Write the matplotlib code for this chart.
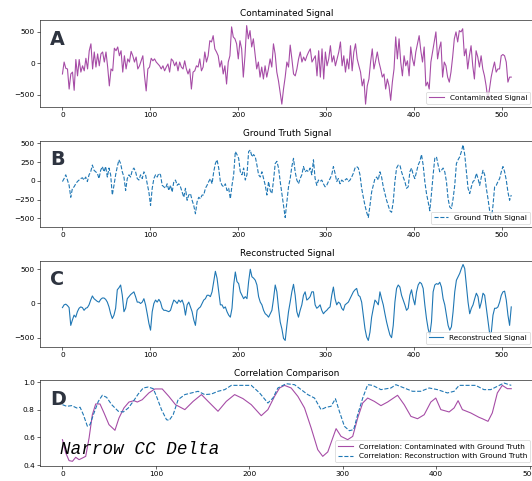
import numpy as np
import matplotlib
matplotlib.use('Agg')
import matplotlib.pyplot as plt

contaminated = [-170, 20, -80, -90, -410, -170, -140, -430, 60, -200, 60, -140, -40, -120, 80, -90, 200, 310, -90, 180,
                -60, 150, -40, 150, 180, 20, 180, -60, -360, -90, -120, 240, 200, 260, 120, 200, -140, 120, -90, 70,
                20, 190, 120, 20, 100, -90, -40, 40, 120, -200, -440, -90, -60, 80, 40, 70, 20, -10, -40, -90,
                -40, -120, -60, -10, -140, 70, 40, -40, 20, -120, 20, -60, -90, 40, -90, -170, -90, -410, -140, -120,
                -40, -60, 70, -120, -60, 180, 20, 120, 360, 340, 440, 230, 180, 120, -60, 40, -170, -40, -330, 20,
                120, 580, 420, 390, 310, 70, 360, 230, -220, 120, 600, 390, 520, 260, 390, 150, -90, 20, -220, -60,
                -250, -40, -220, -90, 70, -60, 310, 150, -140, -280, -470, -650, -410, -220, 20, -60, 290, 70, -170, -200,
                -90, 70, 180, 20, 100, 40, 120, 180, 230, 20, 70, 120, -200, 200, -220, 230, -250, 180, -40, 70,
                280, 20, 120, -40, 70, 180, 340, -40, 120, -140, 70, -90, 280, -120, 180, 310, 70, -40, -140, -360,
                -250, -650, -360, -250, 20, 230, -90, 40, 180, 20, -90, -220, -170, -410, -250, -360, -590, -300, -90, 420,
                70, 390, 20, -200, 120, -40, 40, -200, 260, 70, -40, 180, 310, 440, 200, 20, 260, -360, -300, -410,
                20, 180, 340, 500, 70, 230, 340, -220, 20, -40, -220, -300, -140, 100, 390, 500, 340, 520, 500, 550,
                120, 230, -90, 120, 280, -40, -250, 200, 100, -60, 120, -90, -200, -360, -570, -410, -220, -90, 20, -140,
                -90, -90, 120, 140, 120, 20, -300, -220, -220]

ground_truth = [-10, 30, 80, 10, -60, -220, -100, -80, -40, -10, 10, 30, 40, 10, 50, -10, 80, 120, 210, 140,
                120, 100, 30, 140, 190, 120, 190, 50, 170, 80, -190, -60, 80, 190, 280, 230, 120, 50, -130, 30,
                80, 50, 140, 170, 120, 30, 10, 80, 30, 120, 80, -40, -150, -330, -100, 30, 80, 50, 100, 80,
                -60, -80, -100, -40, -130, -60, -150, -10, 10, -60, -40, -80, -150, -220, -100, -260, -190, -170, -260, -330,
                -440, -280, -220, -240, -190, -190, -100, -60, -10, 30, -40, 120, 230, 280, 170, -10, -60, -80, -40, -130,
                -100, -240, -60, 80, 390, 350, 300, 120, 80, 170, 10, 80, 390, 410, 320, 350, 320, 210, 80, 50,
                120, 30, -60, -190, -10, -130, -170, 10, 230, 260, 170, -10, -170, -330, -490, -280, -80, 30, 190, 300,
                120, 10, -40, 30, 80, 190, 120, 140, 120, 170, 80, 280, 30, -60, 10, -10, 10, -40, -80, -60,
                -10, 30, 80, 190, 100, -10, 30, -40, 10, -10, 10, 30, -10, 10, 50, 100, 170, 190, 170, 80,
                -100, -220, -330, -420, -490, -330, -150, -60, 30, 50, 10, 120, 50, -80, -170, -260, -330, -400, -420, -280,
                -10, 170, 210, 210, 120, 50, -10, -100, -80, 120, 170, 80, 30, 120, 210, 260, 350, 210, -10, -170,
                -280, -400, -170, 80, 300, 320, 210, 120, 140, 170, 120, -10, -240, -350, -370, -240, -60, 230, 280, 320,
                390, 480, 350, 120, -100, -170, -80, -10, 10, 100, 30, -60, 50, 140, 80, -100, -240, -400, -510, -330,
                -80, -60, -10, 30, 120, 190, 120, 10, -150, -260, -190]

reconstructed = [-60, -20, -10, -30, -60, -320, -240, -170, -200, -120, -70, -50, -60, -100, -70, -60, -20, 50, 110, 70,
                 50, 30, 20, 60, 80, 80, 60, 20, -50, -150, -220, -170, -70, 200, 230, 270, 120, -120, -70, 70,
                 100, 130, 150, 170, 100, 20, 20, 0, 20, 70, -20, -150, -290, -390, -120, 0, 50, 20, 60, 20,
                 -70, -100, -100, -110, -120, -100, -20, 50, 30, 0, 50, 20, 50, -20, -170, -20, 20, -50, -120, -240,
                 -320, -100, -70, -50, 0, 50, 70, 120, 120, 100, 170, 320, 470, 370, 170, -20, -20, -70, -50, -120,
                 -170, -200, -70, 270, 460, 320, 290, 170, 120, 70, 100, 70, 320, 500, 390, 370, 340, 270, 100, 20,
                 -20, -100, -150, -170, -200, -150, -100, 70, 270, 170, -70, -270, -370, -510, -540, -320, -120, 20, 170, 280,
                 120, -120, -200, -100, -20, 120, 170, 50, 70, 100, 170, 170, -20, -70, -50, -20, -100, -150, -120, -100,
                 -70, -50, 120, 240, 70, -20, 20, 0, -70, -100, -20, 0, 20, 70, 120, 170, 200, 220, 120, 100,
                 20, -170, -370, -490, -540, -420, -200, -70, 50, 20, -20, 170, 70, -20, -150, -270, -370, -460, -500, -320,
                 20, 220, 270, 240, 120, 50, -20, -100, -70, 120, 200, 70, -20, 170, 270, 310, 290, 220, -20, -220,
                 -370, -460, -270, 170, 270, 290, 280, 310, 240, 70, -20, -170, -320, -390, -340, -120, 170, 340, 390, 440,
                 510, 570, 510, 270, 20, -150, -70, -20, 70, 150, 100, -70, 20, 150, 120, -70, -270, -440, -420, -170,
                 -70, -70, -50, 20, 120, 170, 180, 50, -170, -320, -50]

# sliding-window correlation with the ground truth
corr_cont_x = [0, 3.6, 7.1, 10.7, 14.2, 17.8, 21.4, 24.9, 28.5, 32.0, 35.6, 40.2, 44.5, 49.8, 56.2, 60.5, 65.8, 71.2,
               76.5, 80.1, 85.4, 92.5, 98.9, 106.8, 113.9, 121.0, 131.0, 139.9, 148.8, 155.9, 166.5, 175.4, 184.3,
               193.2, 202.1, 212.8, 219.9, 227.0, 232.4, 237.7, 244.8, 252.0, 259.1, 266.2, 273.3, 278.6, 284.0,
               289.3, 292.9, 298.2, 305.3, 310.7, 316.0, 321.4, 326.7, 333.8, 340.9, 348.0, 358.7, 365.8, 373.0,
               380.1, 387.2, 394.3, 399.6, 405.0, 413.9, 419.2, 423.5, 428.1, 437.0, 445.9, 449.5, 455.5, 460.1,
               465.5, 470.8, 476.2, 480.4]
corr_cont = [0.584, 0.487, 0.432, 0.427, 0.456, 0.439, 0.451, 0.463, 0.596, 0.765, 0.843, 0.843, 0.778, 0.693, 0.652,
             0.741, 0.814, 0.857, 0.867, 0.857, 0.874, 0.923, 0.952, 0.952, 0.898, 0.838, 0.802, 0.862, 0.911, 0.862,
             0.790, 0.862, 0.911, 0.882, 0.838, 0.758, 0.802, 0.898, 0.959, 0.978, 0.959, 0.898, 0.814, 0.669, 0.511,
             0.463, 0.495, 0.596, 0.664, 0.608, 0.584, 0.608, 0.741, 0.850, 0.886, 0.862, 0.831, 0.857, 0.906, 0.838,
             0.753, 0.736, 0.765, 0.857, 0.886, 0.802, 0.785, 0.814, 0.867, 0.802, 0.778, 0.746, 0.736, 0.717, 0.778,
             0.923, 0.978, 0.954, 0.954]

corr_rec_x = [0, 4.6, 10.0, 15.3, 18.9, 22.4, 26.7, 29.5, 33.1, 38.4, 42.7, 47.3, 52.7, 59.8, 65.1, 70.5, 75.8, 81.1,
              86.5, 91.8, 97.2, 100.7, 106.0, 111.4, 114.2, 118.5, 123.8, 131.0, 138.1, 145.2, 152.3, 159.4, 166.5,
              173.7, 180.8, 191.5, 202.1, 211.0, 219.9, 225.3, 230.6, 239.5, 248.4, 255.5, 262.6, 269.8, 276.8,
              282.2, 287.5, 292.2, 296.4, 301.8, 307.1, 311.7, 316.0, 321.4, 326.7, 332.0, 340.9, 351.6, 356.9,
              365.8, 374.7, 383.6, 392.5, 401.4, 412.1, 419.2, 424.6, 433.5, 442.3, 451.2, 458.4, 465.5, 472.6, 480.4]
corr_rec = [0.838, 0.826, 0.831, 0.814, 0.819, 0.765, 0.681, 0.693, 0.765, 0.862, 0.906, 0.891, 0.838, 0.790, 0.785,
            0.814, 0.862, 0.915, 0.959, 0.966, 0.954, 0.898, 0.802, 0.729, 0.724, 0.765, 0.874, 0.911, 0.923, 0.935,
            0.911, 0.915, 0.935, 0.947, 0.978, 0.978, 0.978, 0.923, 0.850, 0.886, 0.959, 0.990, 0.983, 0.947, 0.911,
            0.886, 0.802, 0.819, 0.826, 0.881, 0.790, 0.681, 0.649, 0.657, 0.765, 0.886, 0.983, 0.978, 0.947, 0.959,
            0.983, 0.959, 0.935, 0.935, 0.959, 0.947, 0.923, 0.935, 0.978, 0.978, 0.978, 0.947, 0.947, 0.971, 0.995,
            0.978]

panel_letters = ['A', 'B', 'C', 'D']
titles = ['Contaminated Signal', 'Ground Truth Signal', 'Reconstructed Signal', 'Correlation Comparison']

# figure is a crop of a bigger layout, so axes run just past the right edge
fig = plt.figure(figsize=(532 / 53, 481 / 53), dpi=53)
bottoms = [0.777, 0.5275, 0.278, 0.0312]
heights = [0.1815, 0.180, 0.180, 0.1788]
axs = [fig.add_axes([0.0752, b, 0.928, h]) for b, h in zip(bottoms, heights)]

ax = axs[0]
ax.plot(np.linspace(0, 511, len(contaminated)), contaminated, color='purple', alpha=0.7, label='Contaminated Signal')
ax.set_ylim(-700, 690)

ax = axs[1]
ax.plot(np.linspace(0, 511, len(ground_truth)), ground_truth, '--', color='#1f77b4', label='Ground Truth Signal')
ax.set_ylim(-620, 535)
ax.set_yticks([-500, -250, 0, 250, 500])

ax = axs[2]
ax.plot(np.linspace(0, 511, len(reconstructed)), reconstructed, color='#1f77b4', label='Reconstructed Signal')
ax.set_ylim(-640, 625)

ax = axs[3]
ax.plot(corr_cont_x, corr_cont, color='purple', alpha=0.7, label='Correlation: Contaminated with Ground Truth')
ax.plot(corr_rec_x, corr_rec, '--', color='#1f77b4', label='Correlation: Reconstruction with Ground Truth')
ax.set_ylim(0.393, 1.017)
ax.text(0.04, 0.14, 'Narrow CC Delta', transform=ax.transAxes, fontsize=24,
        family='Liberation Mono', style='italic', va='baseline')

for ax, letter, title in zip(axs, panel_letters, titles):
    ax.set_title(title)
    ax.legend(loc='lower right')
    ax.text(0.02, 0.715, letter, transform=ax.transAxes, fontsize=26, fontweight='bold',
            color='#2e3440', va='baseline')

fig.savefig('out.png', dpi=53)
